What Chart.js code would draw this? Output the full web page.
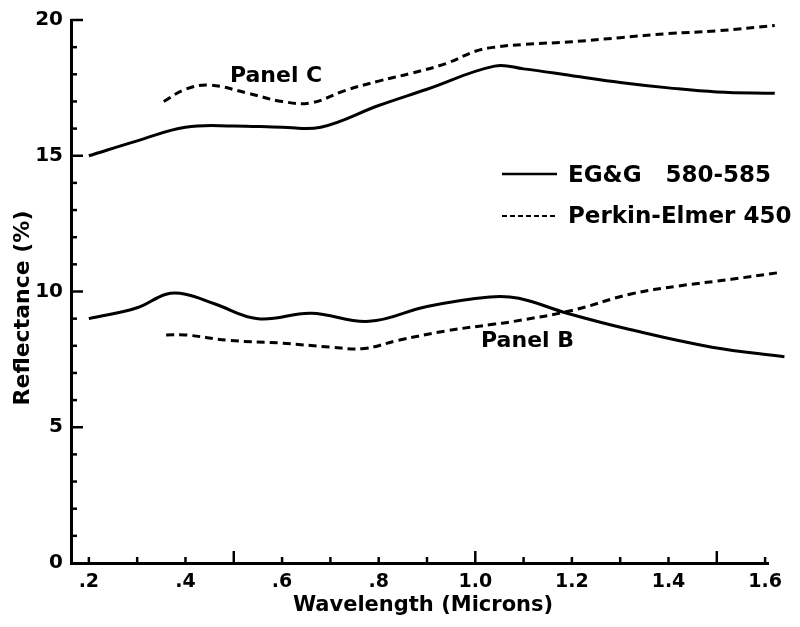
<!DOCTYPE html>
<html>
<head>
<meta charset="utf-8">
<script src="https://cdn.jsdelivr.net/npm/chart.js@4.4.1/dist/chart.umd.min.js"></script>
<style>
  html, body { margin: 0; padding: 0; background: #fff; }
  #wrap { width: 800px; height: 627px; }
</style>
</head>
<body>
<div id="wrap"><canvas id="reflectanceChart"></canvas></div>
<script>
// Wavelength axis ticks (microns) and their printed labels
const wavelengthTicks = [0.2, 0.4, 0.6, 0.8, 1.0, 1.2, 1.4, 1.6];
const wavelengthLabels = [".2", ".4", ".6", ".8", "1.0", "1.2", "1.4", "1.6"];
const reflectanceTicks = [0, 5, 10, 15, 20];

// Panel C
const panelCEggX = [0.2, 0.3, 0.4, 0.5, 0.6, 0.68, 0.8, 0.9, 1.04, 1.1, 1.2, 1.3, 1.4, 1.5, 1.62];
const panelCEggY = [15.0, 15.55, 16.05, 16.1, 16.05, 16.05, 16.85, 17.45, 18.3, 18.2, 17.95, 17.7, 17.5, 17.35, 17.3];
const panelCPeX = [0.355, 0.4, 0.45, 0.53, 0.6, 0.66, 0.73, 0.8, 0.87, 0.94, 1.0, 1.04, 1.1, 1.2, 1.3, 1.4, 1.5, 1.62];
const panelCPeY = [17.0, 17.45, 17.6, 17.3, 17.0, 16.95, 17.4, 17.75, 18.05, 18.4, 18.85, 19.0, 19.1, 19.2, 19.35, 19.5, 19.6, 19.8];

// Panel B
const panelBEggX = [0.2, 0.3, 0.36, 0.4, 0.46, 0.55, 0.66, 0.78, 0.9, 1.03, 1.09, 1.19, 1.32, 1.49, 1.64];
const panelBEggY = [9.0, 9.4, 9.9, 9.9, 9.55, 9.0, 9.2, 8.9, 9.45, 9.8, 9.75, 9.2, 8.6, 7.95, 7.6];
const panelBPeX = [0.36, 0.4, 0.49, 0.6, 0.7, 0.77, 0.84, 0.94, 1.04, 1.08, 1.2, 1.32, 1.42, 1.53, 1.63];
const panelBPeY = [8.4, 8.4, 8.2, 8.1, 7.95, 7.9, 8.2, 8.55, 8.8, 8.9, 9.3, 9.9, 10.2, 10.45, 10.7];

const FONT = "'DejaVu Sans', sans-serif";
const toPoints = (xs, ys) => xs.map((x, i) => ({ x: x, y: ys[i] }));

const solidLine = (label, points) => ({
  label: label,
  data: points,
  borderColor: "#000",
  borderWidth: 3,
  pointRadius: 0,
  tension: 0.4,
  clip: false
});

const dashedLine = (label, points) => ({
  label: label,
  data: points,
  borderColor: "#000",
  borderWidth: 3,
  borderDash: [8, 5],
  pointRadius: 0,
  tension: 0.4,
  clip: false
});

// inward tick marks, panel names, legend and axis titles
const plotMarks = {
  id: "plotMarks",
  afterDraw(chart) {
    const { ctx, chartArea, scales: { x, y } } = chart;
    ctx.save();
    ctx.strokeStyle = "#000";
    ctx.fillStyle = "#000";
    ctx.lineWidth = 2.5;

    for (let v = 1; v <= 20; v++) {
      const py = y.getPixelForValue(v);
      const len = v % 5 === 0 ? 12 : 6;
      ctx.beginPath();
      ctx.moveTo(chartArea.left, py);
      ctx.lineTo(chartArea.left + len, py);
      ctx.stroke();
    }
    for (let i = 2; i <= 16; i++) {
      const px = x.getPixelForValue(i / 10);
      const len = i % 5 === 0 ? 12 : 6;
      ctx.beginPath();
      ctx.moveTo(px, chartArea.bottom);
      ctx.lineTo(px, chartArea.bottom - len);
      ctx.stroke();
    }

    ctx.textBaseline = "middle";
    ctx.textAlign = "left";
    ctx.font = "bold 22px " + FONT;
    ctx.fillText("Panel C", x.getPixelForValue(0.492), y.getPixelForValue(17.94));
    ctx.fillText("Panel B", x.getPixelForValue(1.012), y.getPixelForValue(8.16));

    // legend
    ctx.lineWidth = 2.5;
    ctx.beginPath();
    ctx.moveTo(502, 174);
    ctx.lineTo(557, 174);
    ctx.stroke();
    ctx.lineWidth = 2;
    ctx.setLineDash([5, 3]);
    ctx.beginPath();
    ctx.moveTo(502, 216);
    ctx.lineTo(556, 216);
    ctx.stroke();
    ctx.setLineDash([]);
    ctx.font = "bold 23px " + FONT;
    ctx.fillText("EG&G   580-585", 568, 176);
    ctx.fillText("Perkin-Elmer 450", 568, 217);

    // axis titles
    ctx.font = "bold 21px " + FONT;
    ctx.textAlign = "center";
    ctx.fillText("Wavelength (Microns)", 423, 606);
    ctx.translate(23, 308);
    ctx.rotate(-Math.PI / 2);
    ctx.font = "bold 22px " + FONT;
    ctx.fillText("Reflectance (%)", 0, 0);
    ctx.restore();
  }
};

const chart = new Chart(document.getElementById("reflectanceChart"), {
  type: "line",
  data: {
    datasets: [
      solidLine("EG&G 580-585 (Panel C)", toPoints(panelCEggX, panelCEggY)),
      dashedLine("Perkin-Elmer 450 (Panel C)", toPoints(panelCPeX, panelCPeY)),
      solidLine("EG&G 580-585 (Panel B)", toPoints(panelBEggX, panelBEggY)),
      dashedLine("Perkin-Elmer 450 (Panel B)", toPoints(panelBPeX, panelBPeY))
    ]
  },
  options: {
    responsive: true,
    maintainAspectRatio: false,
    animation: false,
    layout: { padding: { top: 19, right: 32, left: 0, bottom: 0 } },
    plugins: {
      legend: { display: false },
      tooltip: { enabled: false }
    },
    scales: {
      x: {
        type: "linear",
        min: 0.163,
        max: 1.606,
        afterBuildTicks: scale => {
          scale.ticks = wavelengthTicks.map(v => ({ value: v }));
        },
        afterFit: scale => { scale.height = 64; },
        grid: { display: false, drawTicks: false },
        border: { display: true, color: "#000", width: 3 },
        ticks: {
          autoSkip: false,
          maxRotation: 0,
          padding: 8,
          color: "#000",
          font: { family: FONT, size: 19, weight: "bold" },
          callback: (value, index) => wavelengthLabels[index]
        }
      },
      y: {
        min: 0,
        max: 20,
        afterBuildTicks: scale => {
          scale.ticks = reflectanceTicks.map(v => ({ value: v }));
        },
        afterFit: scale => { scale.width = 71; },
        grid: { display: false, drawTicks: false },
        border: { display: true, color: "#000", width: 3 },
        ticks: {
          padding: 8,
          color: "#000",
          font: { family: FONT, size: 20, weight: "bold" }
        }
      }
    }
  },
  plugins: [plotMarks]
});
</script>
</body>
</html>
